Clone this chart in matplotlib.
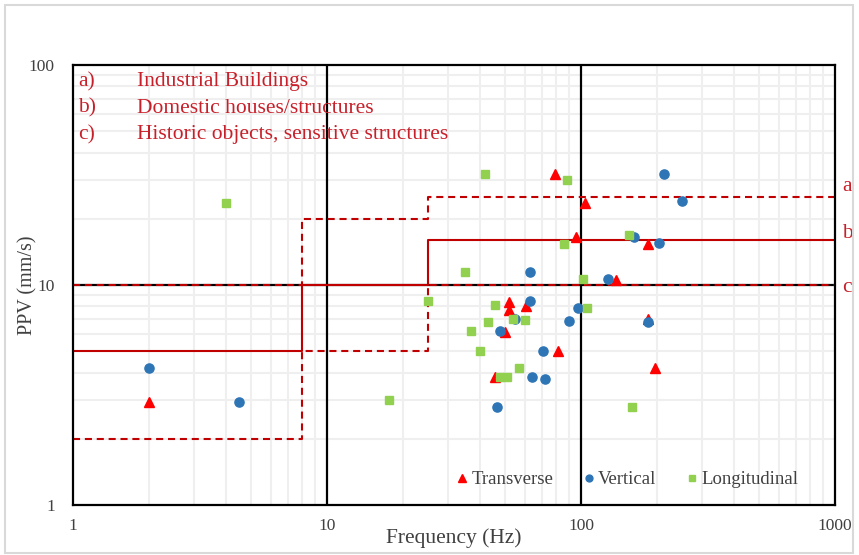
import matplotlib
matplotlib.use("Agg")
import matplotlib.pyplot as plt
from matplotlib.patches import Rectangle
from matplotlib.ticker import FixedLocator, NullFormatter, FixedFormatter
import matplotlib.transforms as mtransforms

plt.rcParams['font.family'] = ['Liberation Serif', 'DejaVu Serif']

# Measured peak particle velocities (frequency in Hz, PPV in mm/s)
transverse_f = [2, 46, 50, 52, 52, 61, 79, 81, 96, 104, 137, 183, 183, 195]
transverse_v = [2.95, 3.8, 6.1, 8.4, 7.7, 8.0, 32, 5.0, 16.5, 23.5, 10.5, 15.4, 7.0, 4.2]

vertical_f = [2, 4.5, 46.5, 48, 55, 63, 63, 64, 71, 72, 90, 97, 128, 162, 183, 202, 213, 250]
vertical_v = [4.2, 2.95, 2.8, 6.2, 7.0, 11.5, 8.5, 3.8, 5.0, 3.75, 6.85, 7.85, 10.7, 16.6, 6.8, 15.5, 32, 24]

longitudinal_f = [4, 17.5, 25, 35, 37, 40, 42, 43, 46, 48, 51, 54, 57, 60, 86, 88, 102, 106, 154, 159]
longitudinal_v = [23.7, 3.0, 8.5, 11.5, 6.2, 5.0, 32, 6.8, 8.1, 3.8, 3.8, 7.0, 4.2, 6.9, 15.4, 30, 10.7, 7.85, 16.8, 2.8]

# Limit curves (step functions over frequency)
limit_f = [1, 8, 8, 25, 25, 1000]
limit_industrial = [10, 10, 20, 20, 25, 25]
limit_domestic = [5, 5, 10, 10, 16, 16]
limit_historic = [2, 2, 5, 5, 10, 10]

limit_notes = ["a)", "b)", "c)"]
limit_names = ["Industrial Buildings", "Domestic houses/structures",
               "Historic objects, sensitive structures"]
limit_tags = ["a", "b", "c"]

x_ticks = [1, 10, 100, 1000]
y_ticks = [1, 10, 100]

LINE_RED = '#C00000'
TEXT_RED = '#C8202A'

fig = plt.figure(figsize=(8.59, 5.55), dpi=100)
ax = fig.add_axes([73 / 859, 1 - 505 / 555, 762 / 859, 440 / 555])

# figure border
fig.patches.append(Rectangle((5 / 859, 2 / 555), 848 / 859, 548 / 555,
                             transform=fig.transFigure, fill=False,
                             edgecolor='#d9d9d9', linewidth=1.5))

ax.set_xscale('log')
ax.set_yscale('log')
ax.set_xlim(1, 1000)
ax.set_ylim(1, 100)

# minor grid
minor_x = [m * d for d in (1, 10, 100) for m in range(2, 10)]
minor_y = [m * d for d in (1, 10) for m in range(2, 10)]
for xv in minor_x:
    ax.axvline(xv, color='#efefef', linewidth=1.5, zorder=0)
for yv in minor_y:
    ax.axhline(yv, color='#efefef', linewidth=1.5, zorder=0)
for xv in (10, 100):
    ax.axvline(xv, color='black', linewidth=1.6, zorder=1)
ax.axhline(10, color='black', linewidth=1.6, zorder=1)

# limit curves
ax.plot(limit_f, limit_industrial, color=LINE_RED, linewidth=1.5,
        dashes=(3.4, 2.3), zorder=2)
ax.plot(limit_f, limit_historic, color=LINE_RED, linewidth=1.5,
        dashes=(3.4, 2.3), zorder=2)
ax.plot(limit_f, limit_domestic, color=LINE_RED, linewidth=1.5,
        linestyle='-', zorder=2.5)

# measurements
ax.plot(transverse_f, transverse_v, linestyle='none', marker='^',
        markersize=7, color='#FF0000', label='Transverse', zorder=3)
ax.plot(vertical_f, vertical_v, linestyle='none', marker='o',
        markersize=6.6, color='#2E75B6', label='Vertical', zorder=4)
ax.plot(longitudinal_f, longitudinal_v, linestyle='none', marker='s',
        markersize=6.4, color='#92D050', label='Longitudinal', zorder=5)

# ticks
ax.xaxis.set_major_locator(FixedLocator(x_ticks))
ax.xaxis.set_major_formatter(FixedFormatter([str(t) for t in x_ticks]))
ax.yaxis.set_major_locator(FixedLocator(y_ticks))
ax.yaxis.set_major_formatter(FixedFormatter([str(t) for t in y_ticks]))
ax.xaxis.set_minor_formatter(NullFormatter())
ax.yaxis.set_minor_formatter(NullFormatter())
ax.tick_params(which='both', length=0)
ax.tick_params(axis='x', pad=9, labelsize=12.5, colors='#404040')
ax.tick_params(axis='y', pad=13, labelsize=12.5, colors='#404040')

for s in ax.spines.values():
    s.set_color('black')
    s.set_linewidth(1.6)
    s.set_zorder(6)

ax.set_xlabel('Frequency (Hz)', fontsize=15.5, color='#404040', labelpad=-4)
ax.set_ylabel('PPV (mm/s)', fontsize=14.5, color='#404040', labelpad=-6)

# limit descriptions
for i, (note, name) in enumerate(zip(limit_notes, limit_names)):
    yy = 0.962 - i * 0.0605
    ax.text(0.007, yy, note, transform=ax.transAxes, fontsize=15.5,
            color=TEXT_RED, va='center', ha='left', zorder=7)
    ax.text(0.084, yy, name, transform=ax.transAxes, fontsize=15.5,
            color=TEXT_RED, va='center', ha='left', zorder=7)

# tags next to each limit curve
tag_offsets = [11, 7, -2]
tag_levels = [limit_industrial[-1], limit_domestic[-1], limit_historic[-1]]
trans = mtransforms.blended_transform_factory(ax.transAxes, ax.transData)
for tag, lvl, off in zip(limit_tags, tag_levels, tag_offsets):
    ax.annotate(tag, xy=(1.0, lvl), xycoords=trans,
                xytext=(7, off), textcoords='offset pixels',
                fontsize=15.5, color=TEXT_RED, va='center', ha='left')

leg = ax.legend(loc='center right', bbox_to_anchor=(0.962, 0.057), ncol=3,
                frameon=False, fontsize=13.5, handlelength=0.6,
                handletextpad=0.2, columnspacing=1.6, markerscale=0.75,
                borderaxespad=0)
for t in leg.get_texts():
    t.set_color('#404040')

fig.savefig('out.png', dpi=100)
